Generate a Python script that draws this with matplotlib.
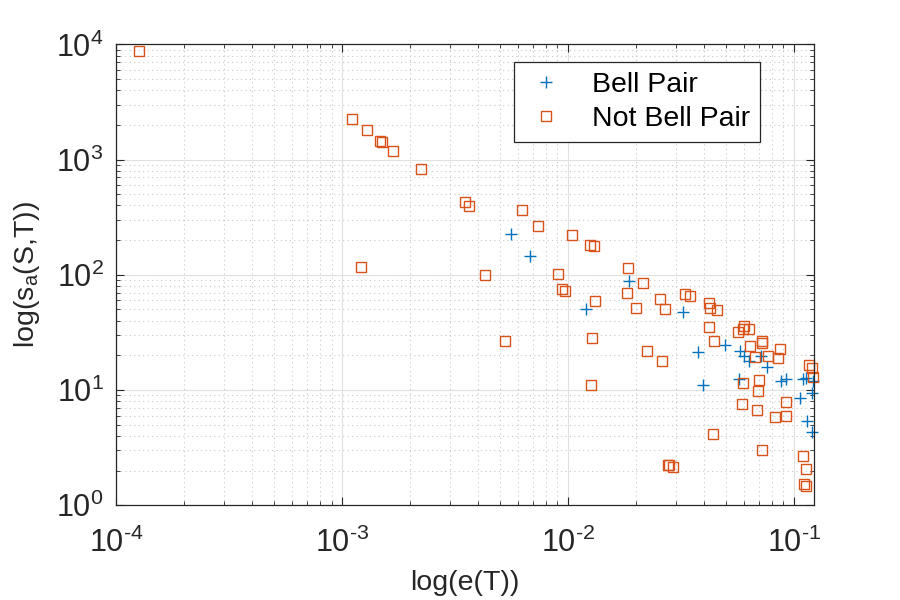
import matplotlib
matplotlib.use('Agg')
from matplotlib import pyplot as plt
from matplotlib.ticker import LogLocator, NullFormatter, FuncFormatter
import numpy as np

plt.rcParams['font.family'] = ['Liberation Sans', 'DejaVu Sans']
plt.rcParams['mathtext.fontset'] = 'custom'
plt.rcParams['mathtext.rm'] = 'Liberation Sans'
plt.rcParams['axes.unicode_minus'] = False

# Bell Pair (plus markers)
bell_e = [5.58e-3, 6.78e-3, 1.20e-2, 1.86e-2, 3.23e-2, 3.77e-2, 3.96e-2, 4.96e-2,
          5.77e-2, 6.05e-2, 6.34e-2, 7.18e-2, 7.59e-2, 5.71e-2, 8.81e-2, 9.27e-2,
          0.110, 0.113, 0.107, 0.120, 0.114, 0.120, 0.122]
bell_s = [228, 146, 50.6, 88, 47.7, 21.4, 11.0, 24.6,
          22.0, 19.9, 18.0, 19.6, 15.8, 12.5, 11.9, 12.5,
          12.5, 12.8, 8.58, 9.4, 5.37, 4.36, 12.0]

# Not Bell Pair (square markers)
not_e = [1.26e-4, 1.11e-3, 1.29e-3, 1.48e-3, 1.51e-3, 1.68e-3, 2.23e-3, 3.52e-3,
         3.64e-3, 6.25e-3, 7.36e-3, 1.04e-2, 1.26e-2, 1.30e-2, 1.21e-3, 4.29e-3,
         9.02e-3, 9.4e-3, 9.68e-3, 1.32e-2, 5.25e-3, 1.28e-2, 1.27e-2, 1.84e-2,
         2.15e-2, 1.82e-2, 2.0e-2, 2.55e-2, 2.69e-2, 3.3e-2, 3.47e-2, 4.21e-2,
         4.25e-2, 4.59e-2, 4.21e-2, 4.43e-2, 2.24e-2, 2.61e-2, 4.38e-2, 2.78e-2,
         2.80e-2, 2.92e-2, 5.69e-2, 6.04e-2, 5.98e-2, 6.34e-2, 6.4e-2, 7.21e-2,
         7.25e-2, 8.69e-2, 6.73e-2, 7.69e-2, 8.5e-2, 5.96e-2, 7.01e-2, 6.94e-2,
         0.117, 0.120, 0.122, 9.23e-2, 6.87e-2, 5.90e-2, 8.26e-2, 9.23e-2,
         7.23e-2, 0.110, 0.113, 0.111, 0.113]
not_s = [8750, 2230, 1820, 1460, 1435, 1197, 835, 431,
         398, 367, 267, 223, 182, 179, 117, 100,
         102, 76, 73, 59.4, 26.7, 28.3, 11.0, 115,
         85, 69.7, 51.6, 61.8, 50.6, 68.4, 65.6, 57.2,
         51.3, 49.2, 35.3, 26.7, 21.8, 17.9, 4.14, 2.24,
         2.22, 2.14, 31.9, 35.7, 33.9, 33.9, 24.3, 26.7,
         25.6, 22.9, 19.2, 19.9, 19.0, 11.5, 12.3, 9.86,
         16.5, 15.5, 13.0, 7.87, 6.70, 7.55, 5.83, 5.94,
         3.01, 2.67, 2.06, 1.53, 1.48]

txt = '#262626'


def pow10(v, pos):
    # MATLAB-style label with a short hyphen for negative exponents
    p = int(round(np.log10(v)))
    if p < 0:
        return r'$\mathregular{10^{\text{-}%d}}$' % (-p)
    return r'$\mathregular{10^{%d}}$' % p


fig = plt.figure(figsize=(9, 6), dpi=100)
ax = fig.add_axes([0.129, 0.158, 0.775, 0.768])

ax.plot(bell_e, bell_s, linestyle='none', marker='+', markersize=9,
        markeredgewidth=1.0, color='#0072BD', label='Bell Pair', clip_on=False)
ax.plot(not_e, not_s, linestyle='none', marker='s', markersize=7.5,
        markeredgewidth=1.0, markerfacecolor='none', markeredgecolor='#D95319',
        label='Not Bell Pair', clip_on=False)

ax.set_xscale('log')
ax.set_yscale('log')
ax.set_xlim(1e-4, 0.1225)
ax.set_ylim(1, 1e4)

ax.xaxis.set_major_locator(LogLocator(base=10, numticks=10))
ax.yaxis.set_major_locator(LogLocator(base=10, numticks=10))
ax.xaxis.set_minor_locator(LogLocator(base=10, subs=range(2, 10), numticks=20))
ax.yaxis.set_minor_locator(LogLocator(base=10, subs=range(2, 10), numticks=20))
ax.xaxis.set_major_formatter(FuncFormatter(pow10))
ax.yaxis.set_major_formatter(FuncFormatter(pow10))
ax.xaxis.set_minor_formatter(NullFormatter())
ax.yaxis.set_minor_formatter(NullFormatter())

ax.grid(True, which='major', color='#e0e0e0', linewidth=0.8)
ax.grid(True, which='minor', color='#c8c8c8', linestyle=(0, (1, 3)), linewidth=0.8)
ax.set_axisbelow(True)

ax.tick_params(which='both', direction='in', top=True, right=True, colors=txt,
               labelcolor=txt)
ax.tick_params(which='major', length=6, labelsize=22)
ax.tick_params(axis='x', which='major', pad=16)
ax.tick_params(axis='y', which='major', pad=9)
ax.tick_params(which='minor', length=3)
for sp in ax.spines.values():
    sp.set_color(txt)
    sp.set_linewidth(0.9)

ax.set_xlabel('log(e(T))', fontsize=20.5, color=txt, labelpad=8)
ax.set_ylabel(r'log(s$_\mathregular{a}$(S,T))', fontsize=20.5, color=txt, labelpad=10)

leg = ax.legend(loc='upper right', bbox_to_anchor=(0.923, 0.962), fontsize=20.5,
                fancybox=False, framealpha=1, edgecolor=txt, borderaxespad=0,
                handlelength=1.6, handletextpad=0.8, borderpad=0.35,
                labelspacing=0.3)
leg.get_frame().set_linewidth(0.9)

fig.savefig('out.png', dpi=100)
